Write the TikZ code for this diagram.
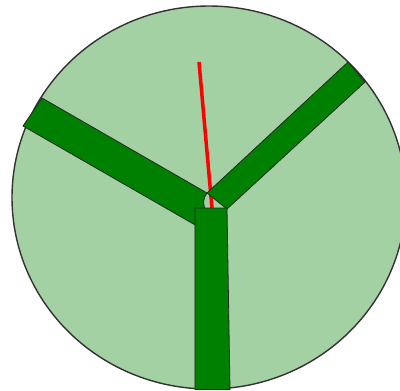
\documentclass[tikz,border=0pt]{standalone}
\usepackage{tikz}
\usepackage{xcolor}
\definecolor{Leaf}{HTML}{A3D1A3}
\definecolor{Stem}{HTML}{008000}
\definecolor{Rim}{HTML}{333333}

\begin{document}
\begin{tikzpicture}[x=0.02cm, y=-0.02cm,
    disc/.style={fill=Leaf, draw=Rim, line width=0.8pt},
    arm/.style={fill=Stem, draw=black!85, line width=0.45pt, line join=miter},
    needle/.style={draw=red, line width=2pt}
  ]
    \useasboundingbox (0,0) rectangle (400,390);
    \clip (0,0) rectangle (400,390);

    \coordinate (hub) at (209,197.5);
    \draw[disc] (hub) ellipse [x radius=197, y radius=191.5];

    \coordinate (tip) at (199,62);
    \coordinate (foot) at (212,208);
    \draw[needle] (tip) -- (foot);

    % three arms
    \draw[arm] (42,98) -- (207,193) .. controls (203,198) and (203,204) .. (205,209)
      -- (197,226) -- (23,126) -- cycle;
    \draw[arm] (207,193) -- (348,62) -- (365,82) -- (227,209) -- cycle;
    \draw[arm] (195,208) -- (227,208) -- (230,389.5) -- (195,389.5) -- cycle;
  \end{tikzpicture}
\end{document}
